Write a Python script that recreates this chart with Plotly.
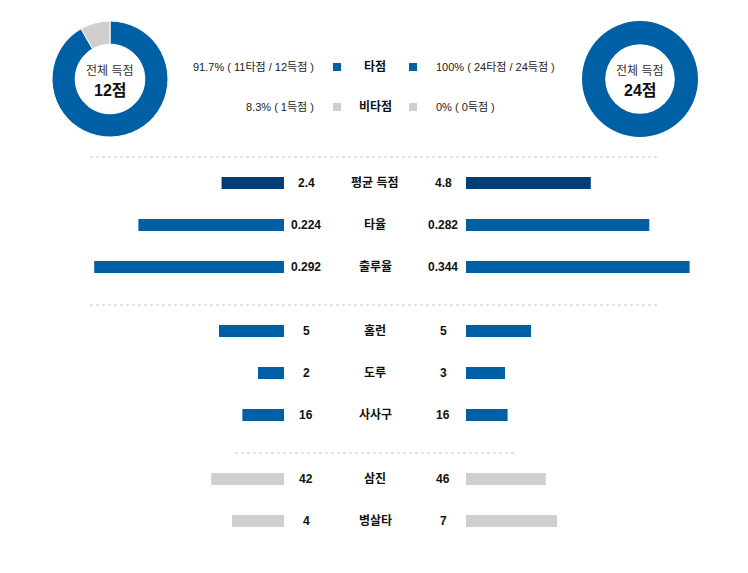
import plotly.graph_objects as go

# ---------------- data ----------------
stat_labels = ["평균 득점", "타율", "출루율", "홈런", "도루", "사사구", "삼진", "병살타"]
left_values = [2.4, 0.224, 0.292, 5, 2, 16, 42, 4]
right_values = [4.8, 0.282, 0.344, 5, 3, 16, 46, 7]
left_text = ["2.4", "0.224", "0.292", "5", "2", "16", "42", "4"]
right_text = ["4.8", "0.282", "0.344", "5", "3", "16", "46", "7"]
scale_max = [10, 0.4, 0.4, 20, 20, 100, 150, 20]   # full-bar reference per stat
section_of_row = [0, 0, 0, 1, 1, 1, 2, 2]

donut_labels = ["타점", "비타점"]
left_donut = [11, 1]
right_donut = [24, 0]
left_total = "12점"
right_total = "24점"
legend_left = ["91.7% ( 11타점 / 12득점 )", "8.3% ( 1득점 )"]
legend_right = ["100% ( 24타점 / 24득점 )", "0% ( 0득점 )"]

# ---------------- style ----------------
W, H = 748, 573
BLUE = "#0060a6"
NAVY = "#003d73"
GRAY = "#cfcfcf"
row_colors = [NAVY, BLUE, BLUE, BLUE, BLUE, BLUE, GRAY, GRAY]
FONT = "Arial, 'Liberation Sans', 'Noto Sans CJK KR', sans-serif"


def fx(px):
    return px / W


def fy(py):
    return 1 - py / H


def note(x, y, text, size=12, color="#111", anchor="center"):
    return dict(x=fx(x), y=fy(y), xref="paper", yref="paper", text=text,
                showarrow=False, xanchor=anchor, yanchor="middle",
                font=dict(size=size, color=color, family=FONT))


row_y = [183 + 42 * i + 22 * s for i, s in enumerate(section_of_row)]
left_norm = [v / m for v, m in zip(left_values, scale_max)]
right_norm = [v / m for v, m in zip(right_values, scale_max)]

fig = go.Figure()

fig.add_trace(go.Bar(
    x=left_norm, y=row_y, orientation="h", width=12,
    marker=dict(color=row_colors, line=dict(width=0)),
    xaxis="x", yaxis="y", customdata=left_text, text=stat_labels,
    hovertemplate="%{text}: %{customdata}<extra></extra>", textposition="none",
    showlegend=False,
))
fig.add_trace(go.Bar(
    x=right_norm, y=row_y, orientation="h", width=12,
    marker=dict(color=row_colors, line=dict(width=0)),
    xaxis="x2", yaxis="y", customdata=right_text, text=stat_labels,
    hovertemplate="%{text}: %{customdata}<extra></extra>", textposition="none",
    showlegend=False,
))

# donuts
R = 58
for cx, vals, lw in [(110, left_donut, 1), (640, right_donut, 0)]:
    fig.add_trace(go.Pie(
        values=vals, labels=donut_labels, hole=0.6, sort=False,
        direction="clockwise", rotation=0, textinfo="none",
        marker=dict(colors=[BLUE, GRAY], line=dict(color="white", width=lw)),
        domain=dict(x=[fx(cx - R), fx(cx + R)], y=[fy(79 + R), fy(79 - R)]),
        showlegend=False,
    ))

annotations = []
for cx, total in [(110, left_total), (640, right_total)]:
    annotations.append(note(cx, 71, "전체 득점", 12, "#333"))
    annotations.append(note(cx, 90, "<b>%s</b>" % total, 16, "#111"))

# legend rows
legend_y = [67, 107]
for k, name in enumerate(donut_labels):
    yy = legend_y[k]
    annotations.append(note(316, yy, legend_left[k], 11, "#222", "right"))
    annotations.append(note(434, yy, legend_right[k], 11, "#222", "left"))
    annotations.append(note(375, yy, "<b>%s</b>" % name, 12, "#111"))

# stat rows text
for i, lab in enumerate(stat_labels):
    yy = row_y[i]
    annotations.append(note(306, yy, "<b>%s</b>" % left_text[i]))
    annotations.append(note(443, yy, "<b>%s</b>" % right_text[i]))
    annotations.append(note(375, yy, "<b>%s</b>" % lab))

shapes = []
legend_colors = [BLUE, GRAY]
for k in range(2):
    yy = legend_y[k]
    for sx in (333, 409):
        shapes.append(dict(type="rect", xref="paper", yref="paper",
                           x0=fx(sx), x1=fx(sx + 8), y0=fy(yy + 4), y1=fy(yy - 4),
                           fillcolor=legend_colors[k], line=dict(width=0)))
for (x0, x1, yy) in [(90, 658, 157), (90, 658, 305), (235, 515, 453)]:
    shapes.append(dict(type="line", xref="paper", yref="paper",
                       x0=fx(x0), x1=fx(x1), y0=fy(yy), y1=fy(yy),
                       line=dict(color="#e2e2e2", width=2, dash="dot")))

fig.update_layout(
    width=W, height=H, autosize=False,
    margin=dict(l=0, r=0, t=0, b=0),
    paper_bgcolor="white", plot_bgcolor="white",
    barmode="overlay",
    xaxis=dict(domain=[fx(24), fx(284)], range=[1, 0], visible=False, fixedrange=True),
    xaxis2=dict(domain=[fx(466), fx(726)], range=[0, 1], visible=False, fixedrange=True,
                anchor="y"),
    yaxis=dict(domain=[0, 1], range=[H, 0], visible=False, fixedrange=True),
    annotations=annotations, shapes=shapes,
    font=dict(family=FONT),
)

fig.write_html("out.html")
